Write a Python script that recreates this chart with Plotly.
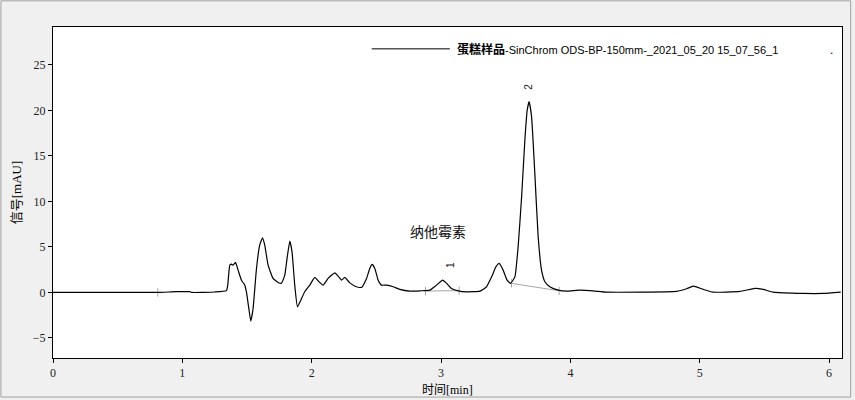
import plotly.graph_objects as go

# chromatogram trace (time [min], signal [mAU])
time_min = [0.0, 0.81, 0.954, 1.057, 1.073, 1.25, 1.341, 1.351, 1.367, 1.380, 1.392, 1.411,
            1.431, 1.457, 1.483, 1.496, 1.514, 1.529, 1.547, 1.573, 1.598, 1.620, 1.637,
            1.663, 1.701, 1.740, 1.766, 1.792, 1.813, 1.831, 1.848, 1.869, 1.890, 1.916,
            1.946, 1.985, 2.024, 2.050, 2.088, 2.127, 2.179, 2.204, 2.230, 2.256, 2.295,
            2.346, 2.385, 2.424, 2.449, 2.467, 2.488, 2.514, 2.540, 2.579, 2.630, 2.681,
            2.759, 2.836, 2.913, 2.965, 3.012, 3.043, 3.081, 3.132, 3.197, 3.300, 3.352,
            3.391, 3.424, 3.449, 3.480, 3.511, 3.538, 3.571, 3.596, 3.623, 3.648, 3.666,
            3.681, 3.700, 3.725, 3.751, 3.777, 3.803, 3.841, 3.906, 3.971, 4.074, 4.176,
            4.280, 4.821, 4.899, 4.950, 5.027, 5.104, 5.311, 5.427, 5.491, 5.568, 5.800,
            5.955, 6.09]
signal_mau = [0.0, 0.0, 0.08, 0.08, 0.0, 0.05, 0.2, 0.8, 3.0, 3.1, 3.0, 3.3,
              2.45, 1.35, 0.8, 0.0, -1.76, -3.15, -1.76, 2.6, 5.2, 6.0, 5.2,
              3.0, 1.54, 1.1, 1.0, 1.9, 4.1, 5.64, 4.46, 0.8, -1.58, -0.85,
              0.07, 0.8, 1.65, 1.27, 0.8, 1.54, 2.15, 1.8, 1.35, 1.65, 1.05,
              0.62, 0.55, 1.54, 2.64, 3.08, 2.64, 1.35, 0.8, 0.8, 0.62, 0.33,
              0.14, 0.18, 0.25, 0.8, 1.35, 1.0, 0.44, 0.18, 0.07, 0.14, 0.62,
              1.71, 2.8, 3.19, 2.45, 1.35, 1.0, 1.71, 5.0, 10.5, 16.7, 20.0,
              20.95, 19.3, 13.1, 6.1, 2.45, 1.17, 0.62, 0.25, 0.14, 0.25, 0.18,
              0.03, 0.11, 0.4, 0.69, 0.33, 0.03, 0.11, 0.44, 0.33, 0.03, -0.11,
              -0.11, 0.03]

# integration baselines (start/end)
base1_x = [2.88, 3.14]
base1_y = [0.15, 0.2]
base2_x = [3.545, 3.913]
base2_y = [1.0, 0.18]
event_x = [0.81, 2.88, 3.14, 3.545, 3.913]
event_y = [0.0, 0.15, 0.2, 1.0, 0.18]

# peak labels
peak_x = [3.068, 3.68]
peak_y = [3.0, 22.6]
peak_names = ["1", "2"]

compound_label = "纳他霉素"
compound_x = 2.98
compound_y = 6.7

x_ticks = [0, 1, 2, 3, 4, 5, 6]
y_ticks = [-5, 0, 5, 10, 15, 20, 25]

fig = go.Figure()
fig.add_trace(go.Scatter(x=base1_x, y=base1_y, mode="lines",
                         line=dict(color="#a8a8a8", width=1), showlegend=False, hoverinfo="skip"))
fig.add_trace(go.Scatter(x=base2_x, y=base2_y, mode="lines",
                         line=dict(color="#a8a8a8", width=1), showlegend=False, hoverinfo="skip"))
fig.add_trace(go.Scatter(x=event_x, y=event_y, mode="markers",
                         marker=dict(symbol="line-ns", size=6, line=dict(color="#a8a8a8", width=1)),
                         showlegend=False, hoverinfo="skip"))
fig.add_trace(go.Scatter(x=time_min, y=signal_mau, mode="lines",
                         line=dict(color="black", width=1.2, shape="spline", smoothing=0.4),
                         showlegend=False))

for px_, py_, nm in zip(peak_x, peak_y, peak_names):
    fig.add_annotation(x=px_, y=py_, text=nm, showarrow=False, textangle=-90,
                       font=dict(family="Liberation Sans", size=10, color="#222"))

fig.add_annotation(x=compound_x, y=compound_y, text=compound_label, showarrow=False,
                   font=dict(family="Noto Sans CJK SC", size=14, color="#111"))

# legend (drawn manually)
fig.add_shape(type="line", xref="paper", yref="paper", x0=0.404, x1=0.503, y0=0.934, y1=0.934,
              line=dict(color="black", width=1))
fig.add_annotation(xref="paper", yref="paper", x=0.510, y=0.934, xanchor="left", yanchor="middle",
                   showarrow=False,
                   text="<b><span style='font-family:Noto Sans CJK SC;font-size:12px'>蛋糕样品</span></b>"
                        "-SinChrom ODS-BP-150mm-_2021_05_20 15_07_56_1",
                   font=dict(family="Liberation Sans", size=11, color="black"))
fig.add_annotation(xref="paper", yref="paper", x=0.987, y=0.930, xanchor="center", yanchor="middle",
                   showarrow=False, text=".", font=dict(family="Liberation Sans", size=12, color="black"))

# x-axis title (placed as annotation to sit closer to tick labels)
fig.add_annotation(xref="paper", yref="paper", x=0.5, y=-0.091, xanchor="center", yanchor="middle",
                   showarrow=False,
                   text="时间<span style='font-family:Liberation Serif'>[min]</span>",
                   font=dict(family="Noto Sans CJK SC", size=12, color="black"))

# window frame
fig.add_shape(type="rect", xref="paper", yref="paper", x0=-0.066, x1=1.011, y0=-0.118, y1=1.079,
              line=dict(color="#a0a0a0", width=1), layer="below")

fig.update_layout(
    width=855, height=400,
    margin=dict(l=53, r=13, t=27, b=42),
    paper_bgcolor="#f0f0f0", plot_bgcolor="white",
    xaxis=dict(range=[0, 6.1], tickvals=x_ticks, ticks="outside", ticklen=4, tickcolor="black",
               showgrid=False, zeroline=False, showline=True, linecolor="black", linewidth=1,
               mirror=True, automargin=False,
               tickfont=dict(family="Liberation Serif", size=12, color="#222")),
    yaxis=dict(range=[-7.2, 29.15], tickvals=y_ticks, ticks="outside", ticklen=4, tickcolor="black",
               showgrid=False, zeroline=False, showline=True, linecolor="black", linewidth=1,
               mirror=True, automargin=False,
               tickfont=dict(family="Liberation Serif", size=12, color="#222"),
               title=dict(text="信号<span style='font-family:Liberation Serif'>[mAU]</span>",
                          font=dict(family="Noto Sans CJK SC", size=13, color="black"), standoff=8)),
)

fig.write_html("out.html", config={"displayModeBar": False},
               post_script="document.body.style.margin='0';")
